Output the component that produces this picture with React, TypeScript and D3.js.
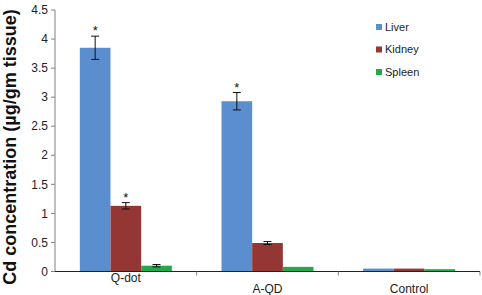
import React from "react";
import * as d3 from "d3";

const categories = ["Q-dot", "A-QD", "Control"];
const seriesNames = ["Liver", "Kidney", "Spleen"];
const liver = [3.85, 2.93, 0.05];
const kidney = [1.13, 0.49, 0.05];
const spleen = [0.1, 0.08, 0.04];
const liverErr = [0.2, 0.15, 0];
const kidneyErr = [0.055, 0.025, 0];
const spleenErr = [0.02, 0, 0];
const stars = [
  [true, true, false],
  [true, false, false],
  [false, false, false],
];
const yTicks = [0, 0.5, 1, 1.5, 2, 2.5, 3, 3.5, 4, 4.5];
const colors = ["#5B8ECF", "#943634", "#23A84A"];

export default function App() {
  const W = 482, H = 295;
  const x0 = 55, x1 = 480, yTop = 10, yBot = 271.5;
  const x = d3.scaleBand().domain(categories).range([x0, x1]).paddingInner(0).paddingOuter(0);
  const xs = d3.scaleBand().domain(seriesNames).range([0, x.bandwidth()]).paddingInner(0).paddingOuter(0.81);
  const y = d3.scaleLinear().domain([0, 4.5]).range([yBot, yTop]);
  const values = [liver, kidney, spleen];
  const errs = [liverErr, kidneyErr, spleenErr];
  const font = "Arial, 'Liberation Sans', sans-serif";
  const labelDy = [282, 293, 293];

  return (
    <div style={{ position: "fixed", left: 0, top: 0 }}>
      <svg width={W} height={H} style={{ display: "block", background: "#fff" }} fontFamily={font}>
        {seriesNames.map((s, si) =>
          categories.map((c, ci) => {
            const v = values[si][ci];
            const bx = (x(c) as number) + (xs(s) as number);
            return (
              <rect key={s + c} x={bx} y={y(v)} width={xs.bandwidth()} height={yBot - y(v)} fill={colors[si]} />
            );
          })
        )}
        {seriesNames.map((s, si) =>
          categories.map((c, ci) => {
            const v = values[si][ci];
            const e = errs[si][ci];
            if (!e) return null;
            const cx = (x(c) as number) + (xs(s) as number) + xs.bandwidth() / 2;
            return (
              <g key={"e" + s + c} stroke="#111" strokeWidth={1}>
                <line x1={cx} x2={cx} y1={y(v + e)} y2={y(v - e)} />
                <line x1={cx - 4} x2={cx + 4} y1={y(v + e)} y2={y(v + e)} />
                <line x1={cx - 4} x2={cx + 4} y1={y(v - e)} y2={y(v - e)} />
              </g>
            );
          })
        )}
        {seriesNames.map((s, si) =>
          categories.map((c, ci) => {
            if (!stars[si][ci]) return null;
            const v = values[si][ci] + errs[si][ci];
            const cx = (x(c) as number) + (xs(s) as number) + xs.bandwidth() / 2;
            return (
              <text key={"s" + s + c} x={cx} y={y(v) - 1} textAnchor="middle" fontSize={13} fill="#111">
                *
              </text>
            );
          })
        )}
        <line x1={x0} x2={x0} y1={yTop} y2={yBot} stroke="#808080" strokeWidth={1} />
        {yTicks.map((t) => (
          <g key={t}>
            <line x1={x0 - 4} x2={x0} y1={y(t)} y2={y(t)} stroke="#808080" />
            <text x={x0 - 7} y={y(t)} dy="0.35em" textAnchor="end" fontSize={12} fill="#222">
              {t}
            </text>
          </g>
        ))}
        <line x1={x0} x2={x1} y1={yBot} y2={yBot} stroke="#222" strokeWidth={1} />
        {categories.map((c, i) => (
          <g key={c}>
            <line x1={(x(c) as number) + x.bandwidth()} x2={(x(c) as number) + x.bandwidth()} y1={yBot} y2={yBot + 4} stroke="#808080" />
            <text x={(x(c) as number) + x.bandwidth() / 2} y={labelDy[i]} textAnchor="middle" fontSize={12} fill="#222">
              {c}
            </text>
          </g>
        ))}
        <text
          transform={`translate(16,147) rotate(-90)`}
          textAnchor="middle"
          fontSize={18}
          fontWeight="bold"
          fill="#111"
        >
          Cd concentration (µg/gm tissue)
        </text>
        {seriesNames.map((s, i) => (
          <g key={"l" + s} transform={`translate(376,${27 + i * 22.5})`}>
            <rect x={0} y={-3} width={6} height={6} fill={colors[i]} />
            <text x={9} y={0} dy="0.35em" fontSize={11} fill="#222">
              {s}
            </text>
          </g>
        ))}
      </svg>
    </div>
  );
}
